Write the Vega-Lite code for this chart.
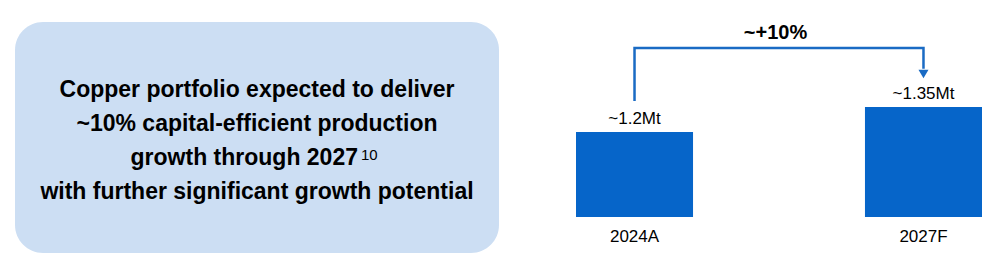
{
  "$schema": "https://vega.github.io/schema/vega-lite/v6.json",
  "background": "white",
  "padding": {"left": 15, "top": 22, "right": 0, "bottom": 0},
  "spacing": 77,
  "bounds": "flush",
  "config": {"view": {"stroke": null}, "font": "Liberation Sans"},
  "hconcat": [
    {
      "width": 484,
      "height": 231,
      "view": {"fill": "#CCDEF3", "cornerRadius": 28, "stroke": null},
      "data": {"values": [
        {"line": 1, "text": "Copper portfolio expected to deliver", "sup": ""},
        {"line": 2, "text": "~10% capital-efficient production", "sup": ""},
        {"line": 3, "text": "growth through 2027", "sup": "10"},
        {"line": 4, "text": "with further significant growth potential", "sup": ""}
      ]},
      "encoding": {
        "x": {"datum": 0.5, "type": "quantitative", "scale": {"domain": [0, 1], "nice": false, "zero": false}, "axis": null},
        "y": {"field": "line", "type": "quantitative", "scale": {"domain": [-1.228, 5.607], "reverse": true, "nice": false, "zero": false}, "axis": null}
      },
      "layer": [
        {
          "transform": [{"filter": "datum.sup == ''"}],
          "mark": {"type": "text", "fontSize": 23, "fontWeight": "bold", "align": "center", "baseline": "alphabetic", "color": "#000000"},
          "encoding": {"text": {"field": "text"}}
        },
        {
          "transform": [{"filter": "datum.sup != ''"}],
          "mark": {"type": "text", "dx": 101, "fontSize": 23, "fontWeight": "bold", "align": "right", "baseline": "alphabetic", "color": "#000000"},
          "encoding": {"text": {"field": "text"}}
        },
        {
          "transform": [{"filter": "datum.sup != ''"}],
          "mark": {"type": "text", "dx": 104, "dy": -5, "fontSize": 15, "align": "left", "baseline": "alphabetic", "color": "#000000"},
          "encoding": {"text": {"field": "sup"}}
        }
      ]
    },
    {
      "width": 406,
      "height": 195,
      "encoding": {
        "x": {"field": "period", "type": "nominal", "sort": ["2024A", "2027F"],
          "scale": {"domain": ["2024A", "2027F"], "paddingInner": 0.595, "paddingOuter": 0},
          "axis": {"title": null, "domain": false, "ticks": false, "tickSize": 0, "labelAngle": 0, "labelFontSize": 17, "labelColor": "#000000", "labelPadding": 11, "labelFont": "Liberation Sans"}},
        "y": {"type": "quantitative", "scale": {"domain": [0.69, 1.86], "zero": false, "nice": false}, "axis": null}
      },
      "layer": [
        {
          "data": {"values": [
            {"period": "2024A", "value": 1.2, "label": "~1.2Mt"},
            {"period": "2027F", "value": 1.35, "label": "~1.35Mt"}
          ]},
          "layer": [
            {
              "mark": {"type": "bar", "color": "#0665C9"},
              "encoding": {"y": {"field": "value", "type": "quantitative"}, "y2": {"datum": 0.69}}
            },
            {
              "mark": {"type": "text", "fontSize": 17, "baseline": "middle", "align": "center", "dy": -13, "color": "#000000"},
              "encoding": {"y": {"field": "value", "type": "quantitative"}, "text": {"field": "label"}}
            }
          ]
        },
        {
          "data": {"values": [
            {"period": "2024A", "v": 1.386, "o": 1},
            {"period": "2024A", "v": 1.704, "o": 2},
            {"period": "2027F", "v": 1.704, "o": 3},
            {"period": "2027F", "v": 1.58, "o": 4}
          ]},
          "mark": {"type": "line", "color": "#1A6BC4", "strokeWidth": 2.5, "strokeCap": "butt", "strokeJoin": "miter"},
          "encoding": {"y": {"field": "v", "type": "quantitative"}, "order": {"field": "o", "type": "quantitative"}}
        },
        {
          "data": {"values": [{"period": "2027F", "v": 1.548}]},
          "mark": {"type": "point", "shape": "triangle-down", "size": 100, "filled": true, "opacity": 1, "color": "#1A6BC4"},
          "encoding": {"y": {"field": "v", "type": "quantitative"}}
        },
        {
          "data": {"values": [{"period": "2024A", "v": 1.794, "label": "~+10%"}]},
          "mark": {"type": "text", "fontSize": 20, "fontWeight": "bold", "align": "center", "baseline": "middle", "dx": 141, "color": "#000000"},
          "encoding": {"y": {"field": "v", "type": "quantitative"}, "text": {"field": "label"}}
        }
      ]
    }
  ]
}
